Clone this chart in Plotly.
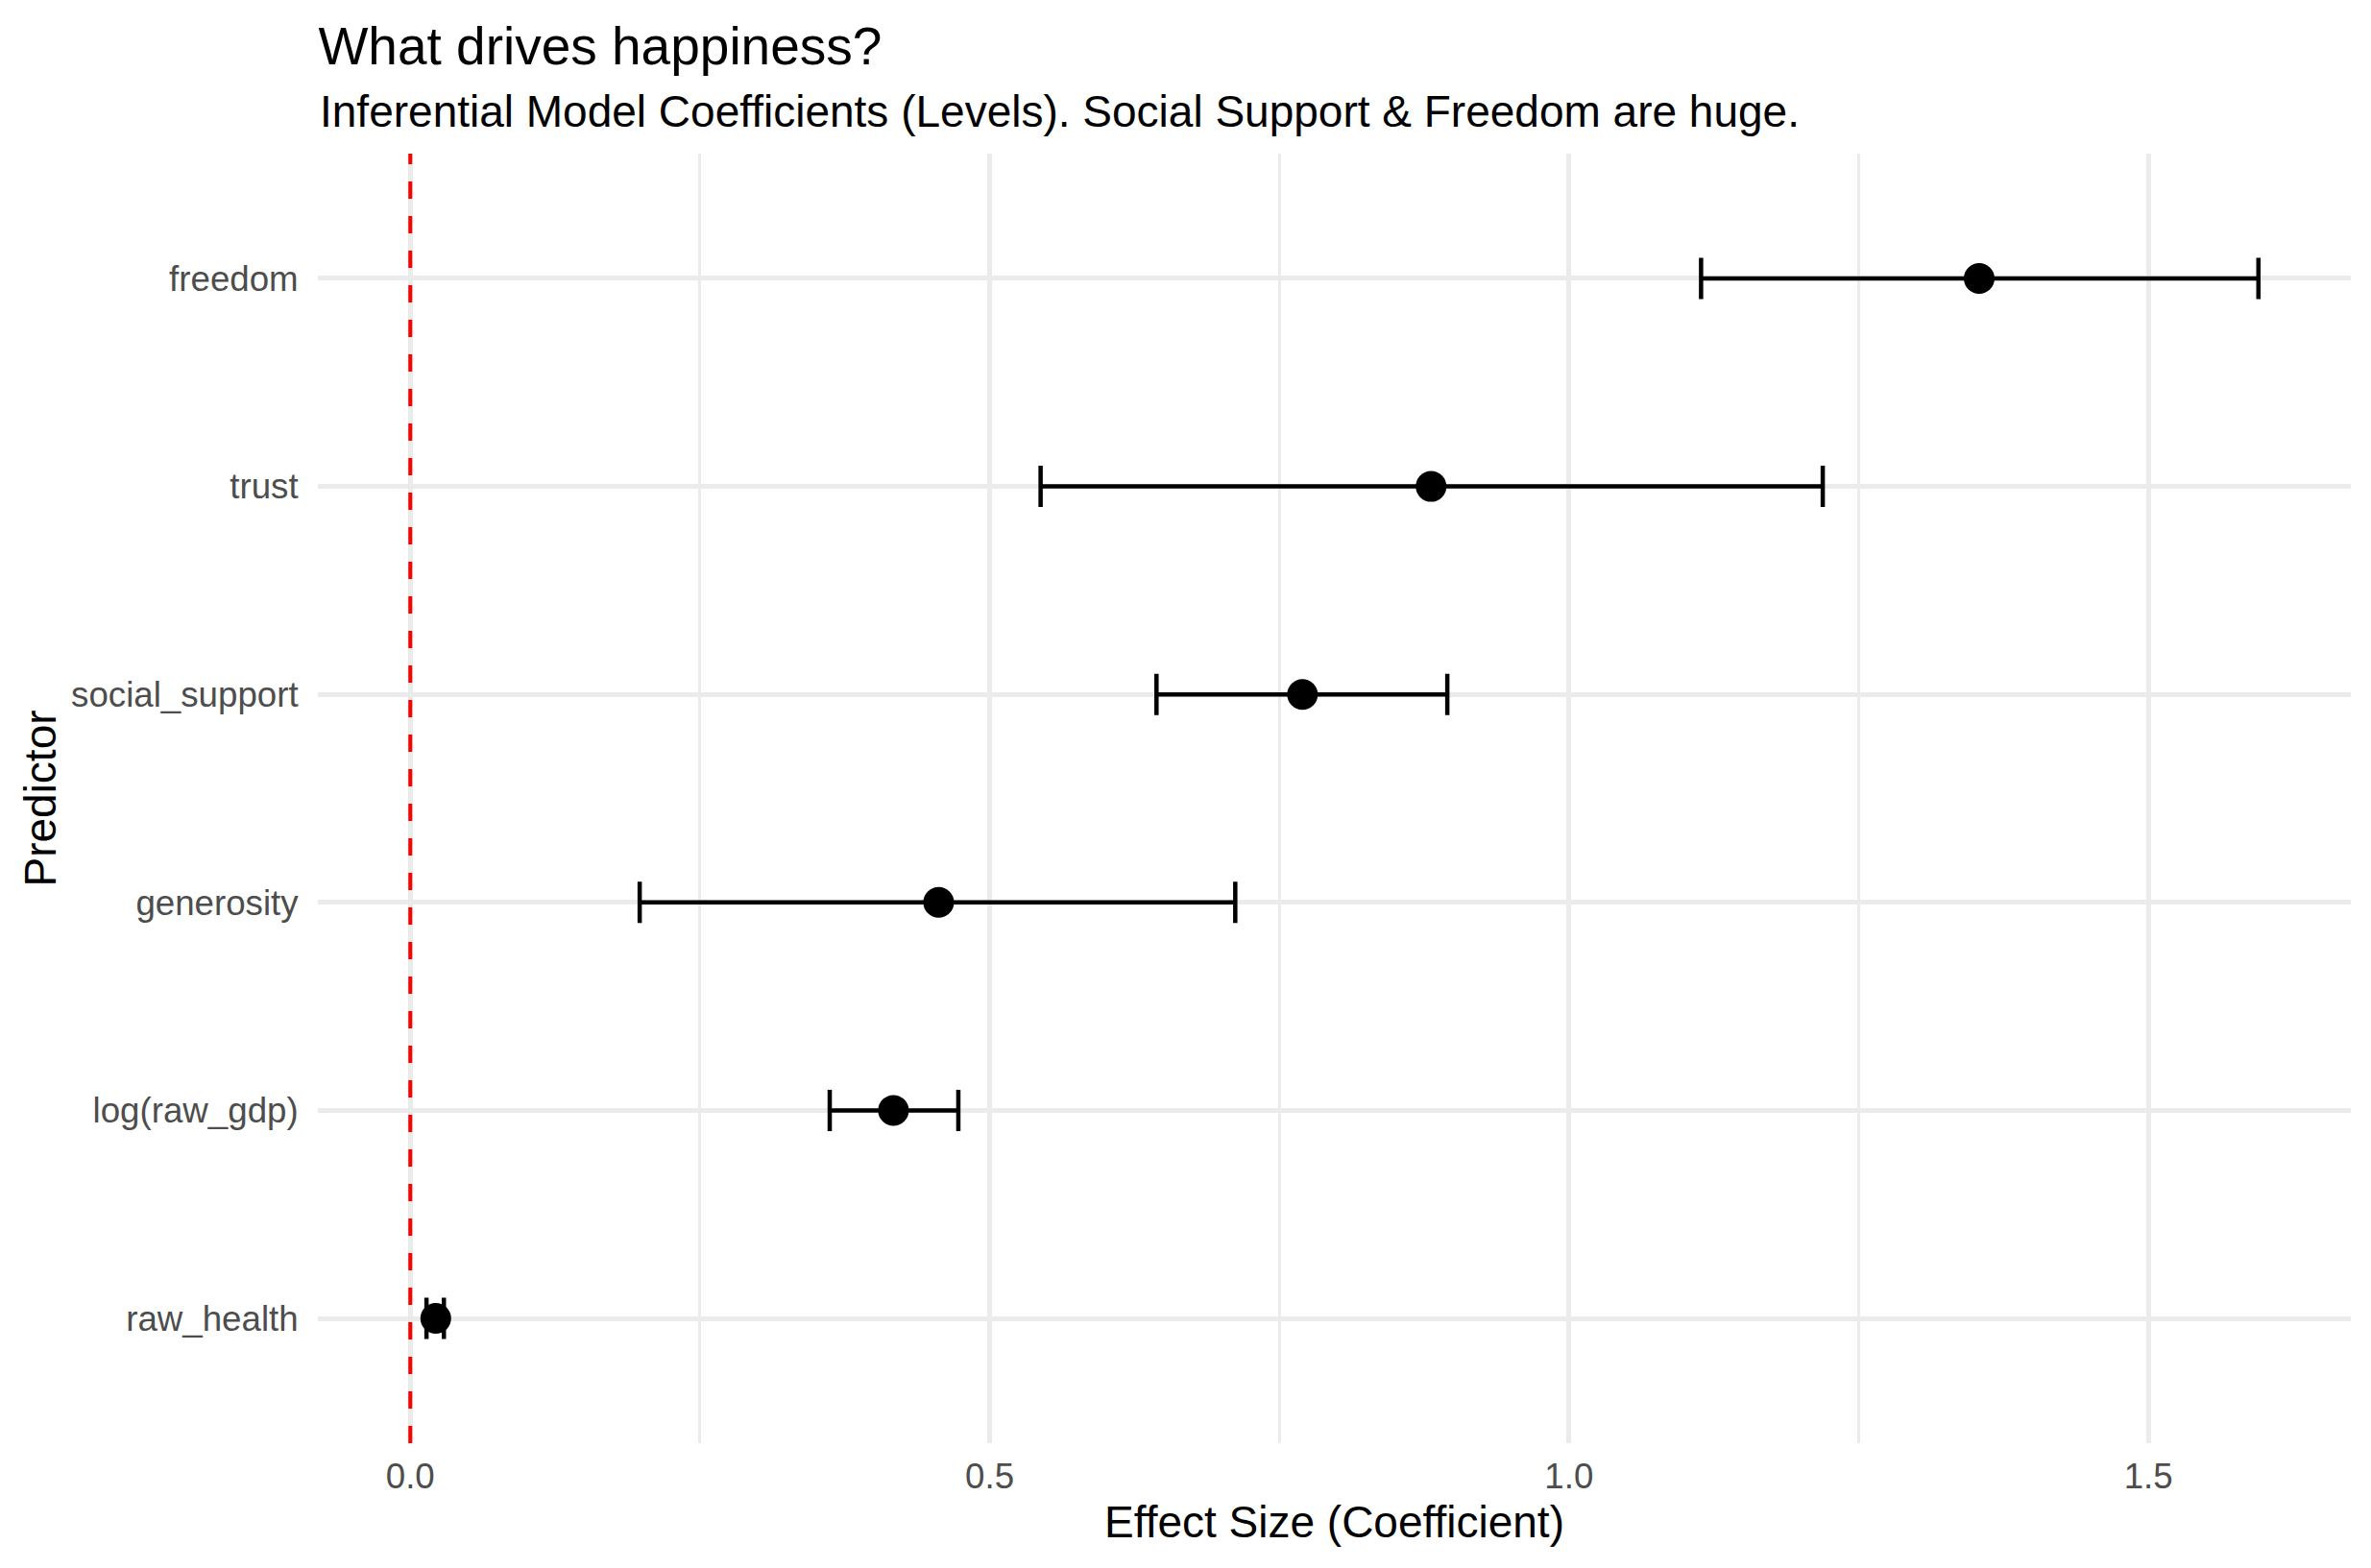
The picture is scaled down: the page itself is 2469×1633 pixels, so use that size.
import plotly.graph_objects as go

# model coefficients (bottom -> top)
predictors = ["raw_health", "log(raw_gdp)", "generosity", "social_support", "trust", "freedom"]
estimate = [0.022, 0.417, 0.456, 0.770, 0.881, 1.354]
conf_low = [0.014, 0.362, 0.198, 0.644, 0.544, 1.114]
conf_high = [0.029, 0.473, 0.712, 0.895, 1.219, 1.595]

x_ticks = [0.0, 0.5, 1.0, 1.5]
x_ticklabels = ["0.0", "0.5", "1.0", "1.5"]

# page body has an 8px margin, so the figure is shrunk by that much on each side
OFF = 8
W, H = 2469 - 2 * OFF, 1633 - 2 * OFF
ML, MR, MT, MB = 323.4, 13.4, 152, 122
FONT = "Liberation Sans, Arial, sans-serif"

err_plus = [h - e for h, e in zip(conf_high, estimate)]
err_minus = [e - l for e, l in zip(estimate, conf_low)]

fig = go.Figure()
fig.add_trace(go.Scatter(
    x=estimate, y=predictors, mode="markers",
    marker=dict(color="black", size=32),
    error_x=dict(type="data", symmetric=False, array=err_plus, arrayminus=err_minus,
                 color="black", thickness=4.5, width=21.5),
    showlegend=False, hoverinfo="x+y"))

# zero reference line
fig.add_shape(type="line", x0=0, x1=0, xref="x", y0=0, y1=1, yref="paper",
              line=dict(color="red", width=4, dash="18px,18px"), layer="above")

lo = min(conf_low + [0.0])
hi = max(conf_high + [0.0])
pad = (hi - lo) * 0.05

fig.update_layout(
    width=W, height=H,
    margin=dict(l=ML, r=MR, t=MT, b=MB, autoexpand=False),
    plot_bgcolor="white", paper_bgcolor="white",
    font=dict(family=FONT, color="black"),
    title=dict(text="What drives happiness?", x=ML / W, xref="container", xanchor="left",
               y=1 - (47.5 - OFF) / H, yref="container", yanchor="middle",
               font=dict(size=55, color="black", family=FONT)),
    annotations=[dict(text="Inferential Model Coefficients (Levels). Social Support & Freedom are huge.",
                      xref="paper", yref="paper", x=0, y=1 + (MT - (115.6 - OFF)) / (H - MT - MB),
                      xanchor="left", yanchor="middle", showarrow=False,
                      font=dict(size=46, color="black", family=FONT))],
    xaxis=dict(range=[lo - pad, hi + pad], tickvals=x_ticks, ticktext=x_ticklabels,
               showgrid=True, gridcolor="#EBEBEB", gridwidth=5,
               minor=dict(dtick=0.25, tick0=0, showgrid=True, gridcolor="#EBEBEB", gridwidth=2.5),
               zeroline=False, showline=False,
               ticks="outside", ticklen=2, tickcolor="rgba(0,0,0,0)",
               tickfont=dict(size=36.7, color="#4D4D4D", family=FONT),
               title=dict(text="Effect Size (Coefficient)", standoff=11,
                          font=dict(size=46, color="black", family=FONT)),
               automargin=False),
    yaxis=dict(type="category", categoryorder="array", categoryarray=predictors,
               range=[-0.6, len(predictors) - 0.4],
               showgrid=True, gridcolor="#EBEBEB", gridwidth=5,
               zeroline=False, showline=False,
               ticks="outside", ticklen=12, tickcolor="rgba(0,0,0,0)",
               tickfont=dict(size=36.7, color="#4D4D4D", family=FONT),
               title=dict(text="Predictor", standoff=0,
                          font=dict(size=46, color="black", family=FONT)),
               automargin=False),
)

fig.write_html("out.html")
